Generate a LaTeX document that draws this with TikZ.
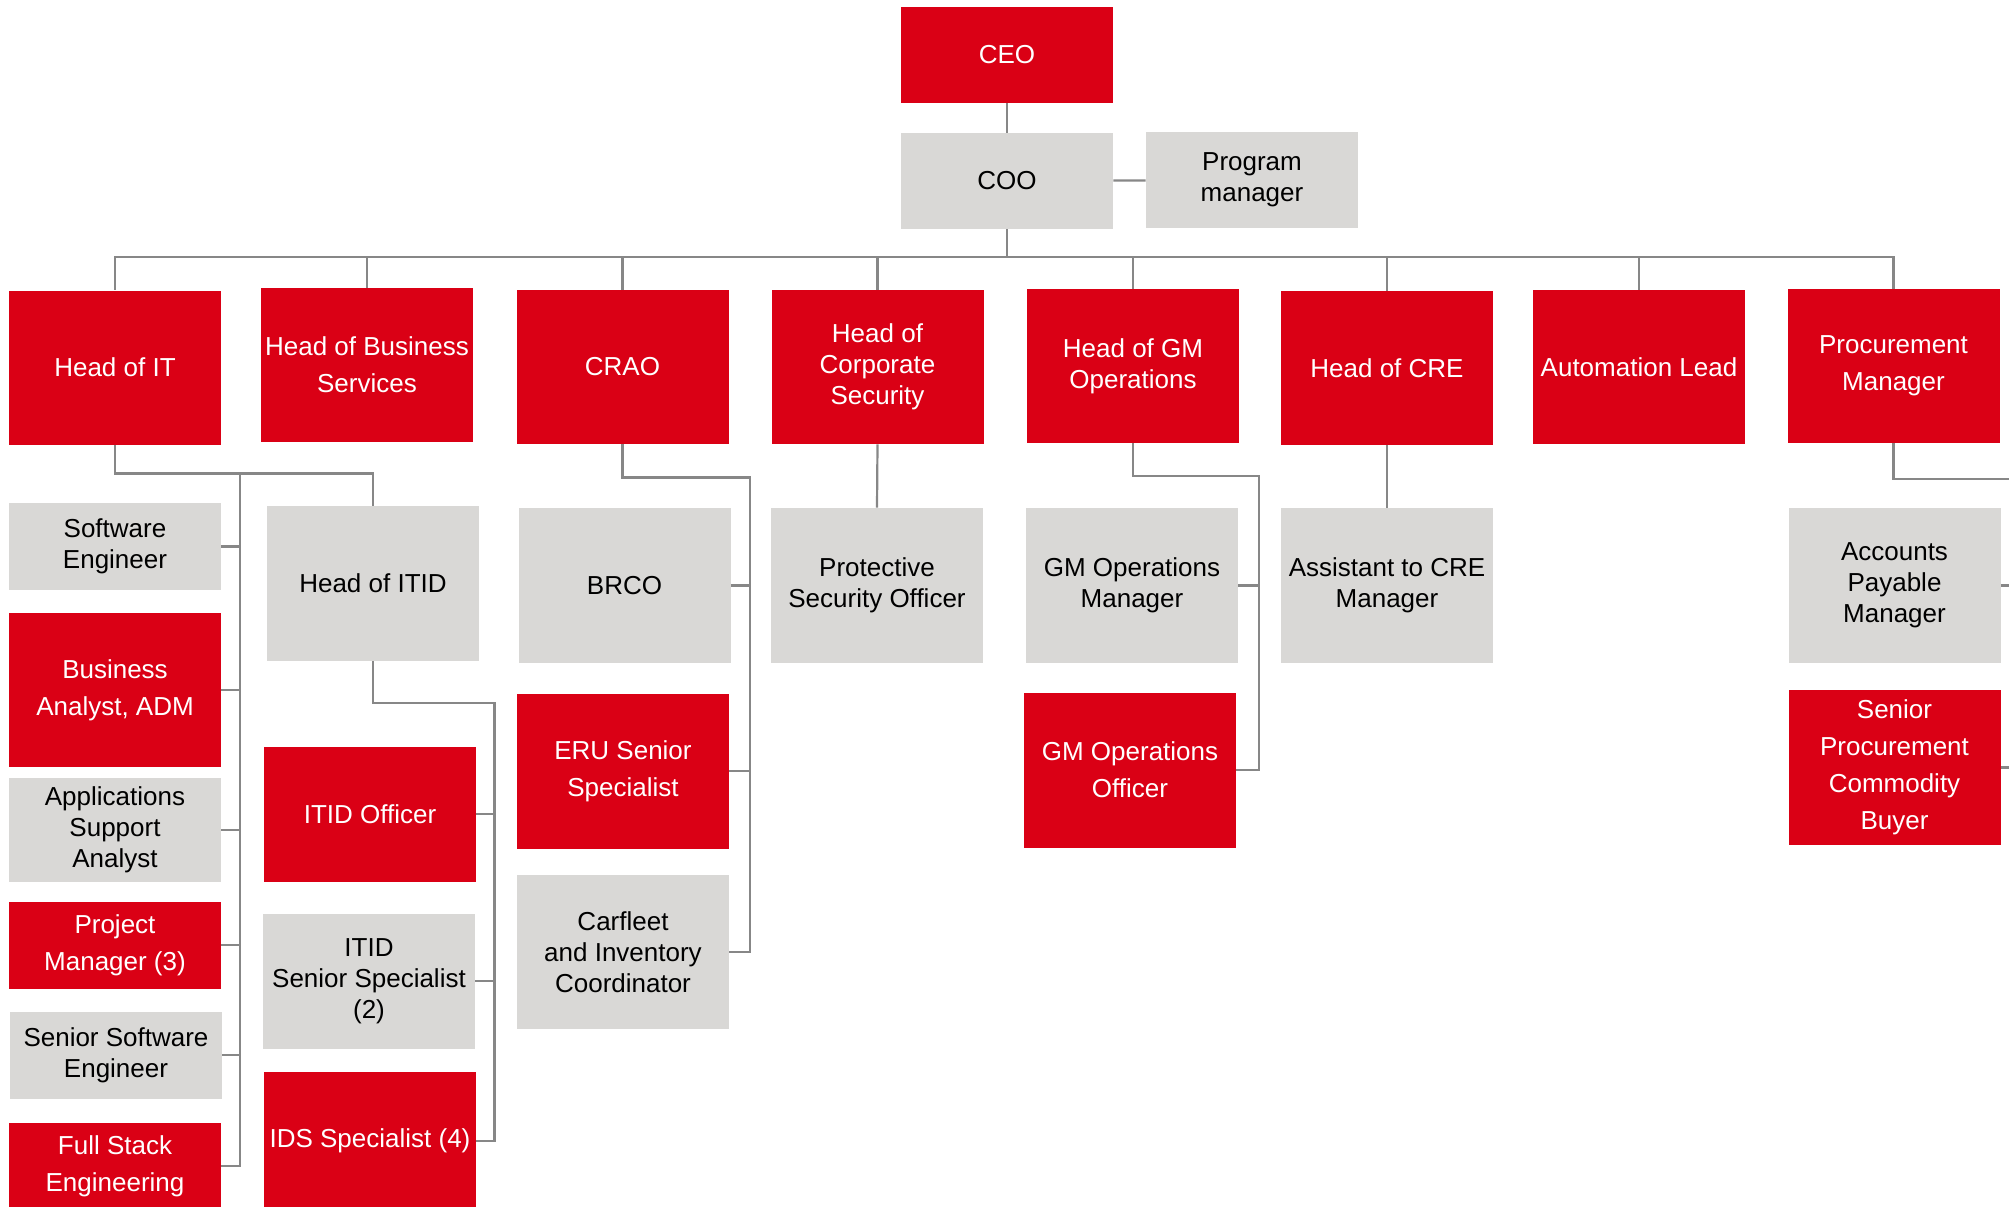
\documentclass[tikz,border=0pt]{standalone}
\usepackage{fontspec}
\setmainfont{Liberation Sans}
\definecolor{hrred}{RGB}{218,0,21}
\definecolor{hrgrey}{RGB}{217,216,214}
\definecolor{hrline}{RGB}{135,135,135}

\begin{document}
\begin{tikzpicture}[x=0.5pt,y=-0.5pt]
	\tikzstyle{box}=[rectangle, inner sep=0pt, minimum width=106pt, align=center,
	font=\fontsize{13}{15.5}\selectfont]
	\tikzstyle{redbox}=[box, fill=hrred, text=white]
	\tikzstyle{greybox}=[box, fill=hrgrey, text=black]
	\tikzstyle{loose}=[font=\fontsize{13}{18.5}\selectfont]
	\tikzstyle{orgline}=[draw=hrline, line width=1.1pt]

	\clip (0,0) rectangle (2009,1206);

	% top
	\node[redbox, minimum height=48pt] (ceo) at (1007,55) {CEO};
	\node[greybox, minimum height=48pt] (coo) at (1007,181) {COO};
	\node[greybox, minimum height=48pt] (prog) at (1252,180) {Program\\manager};

	% heads
	\node[redbox, minimum height=77pt] (hit) at (115,367.5) {Head of IT};
	\node[redbox, loose, minimum height=77pt] (hbs) at (367,365) {Head of Business\\Services};
	\node[redbox, minimum height=77pt] (crao) at (622.5,367) {CRAO};
	\node[redbox, minimum height=77pt] (hcs) at (877.5,367) {Head of\\Corporate\\Security};
	\node[redbox, minimum height=77pt] (hgm) at (1133,366) {Head of GM\\Operations};
	\node[redbox, minimum height=77pt] (hcre) at (1387,368) {Head of CRE};
	\node[redbox, minimum height=77pt] (auto) at (1639,367) {Automation Lead};
	\node[redbox, loose, minimum height=77pt] (proc) at (1893.5,366) {Procurement\\Manager};

	% IT
	\node[greybox, minimum height=43.5pt] (swe) at (115,546.5) {Software\\Engineer};
	\node[redbox, loose, minimum height=77pt] (ba) at (115,690) {Business\\Analyst, ADM};
	\node[greybox, minimum height=52pt] (asa) at (115,830) {Applications\\Support\\Analyst};
	\node[redbox, loose, minimum height=43.5pt] (pm) at (115,945) {Project\\Manager (3)};
	\node[greybox, minimum height=43.5pt] (ssw) at (116,1055) {Senior Software\\Engineer};
	\node[redbox, loose, minimum height=43.5pt] (fse) at (115,1166) {Full Stack\\Engineering};

	\node[greybox, minimum height=77.5pt] (itid) at (373,583.5) {Head of ITID};
	\node[redbox, minimum height=67.5pt] (itido) at (370,814) {ITID Officer};
	\node[greybox, minimum height=67.5pt] (itidss) at (369,981) {ITID\\Senior Specialist\\(2)};
	\node[redbox, minimum height=69pt] (ids) at (370,1141) {IDS Specialist (4)};

	% CRAO
	\node[greybox, minimum height=77.5pt] (brco) at (624.5,585.5) {BRCO};
	\node[redbox, loose, minimum height=77.5pt] (eru) at (623,771) {ERU Senior\\Specialist};
	\node[greybox, minimum height=77pt] (car) at (623,952) {Carfleet\\and Inventory\\Coordinator};

	% security, GM, CRE
	\node[greybox, minimum height=77.5pt] (pso) at (877,585.5) {Protective\\Security Officer};
	\node[greybox, minimum height=77.5pt] (gmom) at (1132,585.5) {GM Operations\\Manager};
	\node[redbox, loose, minimum height=77.5pt] (gmoo) at (1130,770) {GM Operations\\Officer};
	\node[greybox, minimum height=77.5pt] (acre) at (1387,585.5) {Assistant to CRE\\Manager};

	% procurement
	\node[greybox, minimum height=77.5pt] (apm) at (1894.5,585.5) {Accounts\\Payable\\Manager};
	\node[redbox, loose, minimum height=77.5pt] (spcb) at (1894.5,767.5) {Senior\\Procurement\\Commodity\\Buyer};

	\coordinate (bus) at (1007,257);
	\coordinate (itspine) at (240,473.5);
	\coordinate (itidspine) at (494.5,703);
	\coordinate (craospine) at (750,477.5);
	\coordinate (gmspine) at (1259,476);
	\coordinate (procspine) at (2060,479);

	\draw[orgline] (ceo) -- (coo);
	\draw[orgline] (coo) -- (prog);
	\draw[orgline] (coo) -- (bus);
	\draw[orgline] (bus) -| (hit.north);
	\draw[orgline] (bus) -| (hbs.north);
	\draw[orgline] (bus) -| (crao.north);
	\draw[orgline] (bus) -| (hcs.north);
	\draw[orgline] (bus) -| (hgm.north);
	\draw[orgline] (bus) -| (hcre.north);
	\draw[orgline] (bus) -| (auto.north);
	\draw[orgline] (bus) -| (proc.north);

	\draw[orgline] (hit.south) |- (itspine) -| (itid.north);
	\draw[orgline] (itspine) |- (fse.east);
	\draw[orgline] (swe.east) -- (swe.east -| itspine);
	\draw[orgline] (ba.east) -- (ba.east -| itspine);
	\draw[orgline] (asa.east) -- (asa.east -| itspine);
	\draw[orgline] (pm.east) -- (pm.east -| itspine);
	\draw[orgline] (ssw.east) -- (ssw.east -| itspine);

	\draw[orgline] (itid.south) |- (itidspine) |- (ids.east);
	\draw[orgline] (itido.east) -- (itido.east -| itidspine);
	\draw[orgline] (itidss.east) -- (itidss.east -| itidspine);

	\draw[orgline] (crao.south) |- (craospine) |- (car.east);
	\draw[orgline] (brco.east) -- (brco.east -| craospine);
	\draw[orgline] (eru.east) -- (eru.east -| craospine);

	\draw[orgline] (hcs.south) -- (pso.north);

	\draw[orgline] (hgm.south) |- (gmspine) |- (gmoo.east);
	\draw[orgline] (gmom.east) -- (gmom.east -| gmspine);

	\draw[orgline] (hcre.south) -- (acre.north);

	\draw[orgline] (proc.south) |- (procspine) |- (spcb.east);
	\draw[orgline] (apm.east) -- (apm.east -| procspine);
\end{tikzpicture}
\end{document}
